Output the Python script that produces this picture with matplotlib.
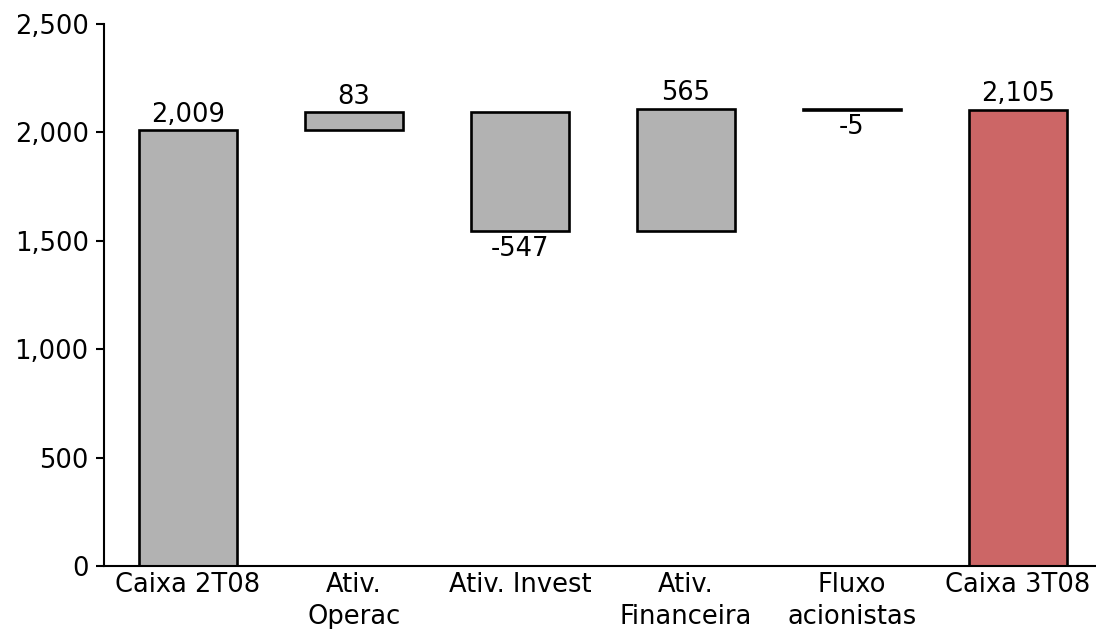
import numpy as np
import matplotlib.pyplot as plt

# Data
categories = ["Caixa 2T08", "Ativ.\nOperac", "Ativ. Invest", "Ativ.\nFinanceira",
              "Fluxo\nacionistas", "Caixa 3T08"]
values = [2009, 83, -547, 565, -5, 2105]
is_total = [True, False, False, False, False, True]

gray = "#B2B2B2"
red = "#CC6666"

fig = plt.figure(figsize=(10.96, 6.29), dpi=100)
ax = fig.add_axes([0.0949, 0.1002, 0.9051, 0.8616])

x = np.arange(len(categories))
running = 0
for i, (v, tot) in enumerate(zip(values, is_total)):
    if tot:
        bottom = 0
        height = v
        running = v
    else:
        bottom = running
        height = v
        running = running + v
    color = red if i == len(values) - 1 else gray
    ax.bar(x[i], height, bottom=bottom, width=0.59, color=color,
           edgecolor="black", linewidth=1.9, zorder=2)
    top = max(bottom, bottom + height)
    low = min(bottom, bottom + height)
    label = f"{v:,}"
    if v >= 0:
        ax.text(x[i], top + 12, label, ha="center", va="bottom", fontsize=18.5)
    else:
        ax.text(x[i], low - 22, label, ha="center", va="top", fontsize=18.5)

ax.set_xlim(-0.505, 5.47)
ax.set_ylim(0, 2500)
ax.set_yticks([0, 500, 1000, 1500, 2000, 2500])
ax.set_yticklabels([f"{t:,}" for t in [0, 500, 1000, 1500, 2000, 2500]], fontsize=18.5)
ax.set_xticks(x)
ax.set_xticklabels(categories, fontsize=18.5, linespacing=1.3, va="top")
ax.tick_params(axis="x", length=0, pad=4)
ax.tick_params(axis="y", length=6, width=1.5, direction="out", pad=5)

for s in ["top", "right"]:
    ax.spines[s].set_visible(False)
ax.spines["left"].set_linewidth(1.5)
ax.spines["bottom"].set_linewidth(1.5)

fig.savefig("out.png", dpi=100)
